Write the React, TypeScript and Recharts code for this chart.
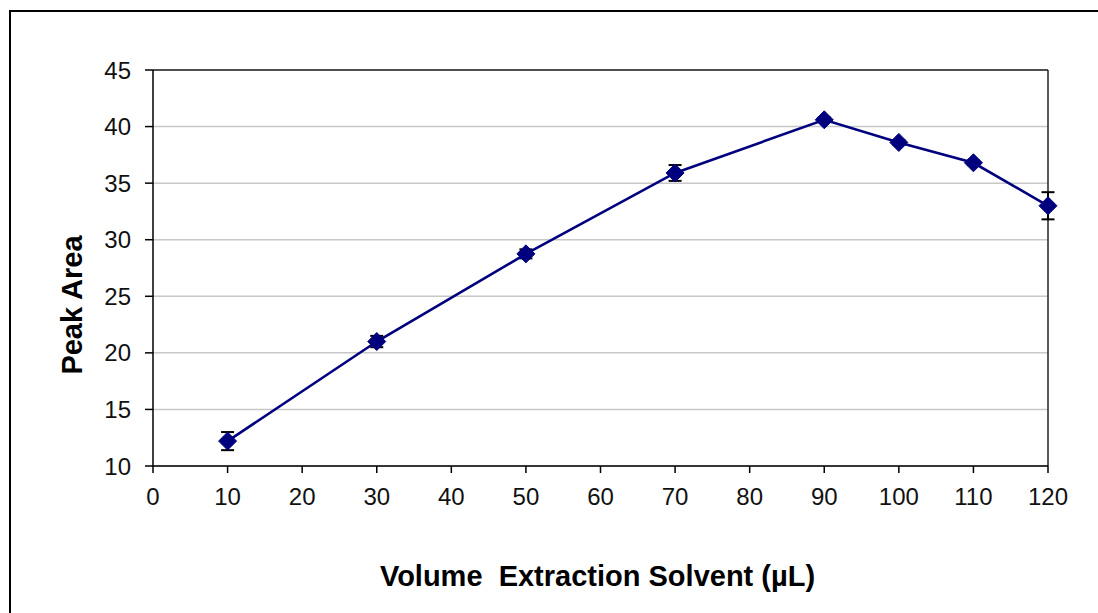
import React from 'react';
import { LineChart, Line, XAxis, YAxis, CartesianGrid, ErrorBar, ReferenceLine } from 'recharts';

const volumes = [10, 30, 50, 70, 90, 100, 110, 120];
const peakAreas = [12.2, 21.0, 28.75, 35.9, 40.6, 38.6, 36.8, 33.0];
const errors = [0.8, 0.5, 0.4, 0.7, 0.2, 0.2, 0.2, 1.2];
const xTicks = [0, 10, 20, 30, 40, 50, 60, 70, 80, 90, 100, 110, 120];
const yTicks = [10, 15, 20, 25, 30, 35, 40, 45];

const data = volumes.map((v, i) => ({ v, area: peakAreas[i], err: errors[i] }));

const NAVY = '#00007f';
const FONT = '"Liberation Sans", Arial, sans-serif';

const Diamond = (props: any) => {
  const { cx, cy } = props;
  if (cx == null || cy == null) return null;
  const s = 9;
  return (
    <polygon
      points={`${cx},${cy - s} ${cx + s},${cy} ${cx},${cy + s} ${cx - s},${cy}`}
      fill={NAVY}
      stroke={NAVY}
      strokeWidth={1}
    />
  );
};

export default function App() {
  return (
    <div style={{ position: 'fixed', left: 0, top: 0, width: 1098, height: 613, overflow: 'hidden', background: '#fff' }}>
      <div
        style={{
          position: 'absolute',
          left: 9,
          top: 10,
          width: 1200,
          height: 700,
          borderLeft: '2px solid #000',
          borderTop: '2px solid #000',
        }}
      />
      <div style={{ position: 'absolute', left: 0, top: 0 }}>
        <LineChart
          width={1098}
          height={613}
          data={data}
          margin={{ top: 70, right: 50, left: 93, bottom: 87 }}
        >
          <CartesianGrid vertical={false} stroke="#c8c8c8" strokeWidth={1.5} />
          <XAxis
            dataKey="v"
            type="number"
            domain={[0, 120]}
            ticks={xTicks}
            interval={0}
            height={60}
            tickSize={7}
            tickMargin={15}
            axisLine={{ stroke: '#000', strokeWidth: 1.5 }}
            tickLine={{ stroke: '#000', strokeWidth: 1.5 }}
            tick={{ fill: '#111', fontSize: 24, fontFamily: FONT }}
          />
          <YAxis
            type="number"
            domain={[10, 45]}
            ticks={yTicks}
            interval={0}
            width={60}
            tickSize={8}
            tickMargin={14}
            axisLine={{ stroke: '#000', strokeWidth: 1.5 }}
            tickLine={{ stroke: '#000', strokeWidth: 1.5 }}
            tick={{ fill: '#111', fontSize: 24, fontFamily: FONT }}
          />
          <ReferenceLine y={45} stroke="#222" strokeWidth={1.5} />
          <ReferenceLine x={120} stroke="#222" strokeWidth={1.5} />
          <Line
            dataKey="area"
            stroke={NAVY}
            strokeWidth={2.6}
            dot={<Diamond />}
            activeDot={false}
            isAnimationActive={false}
          >
            <ErrorBar dataKey="err" width={6.5} stroke="#000" strokeWidth={2} direction="y" />
          </Line>
        </LineChart>
      </div>
      <svg
        width={1098}
        height={613}
        style={{ position: 'absolute', left: 0, top: 0, pointerEvents: 'none' }}
      >
        <text
          x={597.5}
          y={586}
          textAnchor="middle"
          fontFamily={FONT}
          fontWeight="bold"
          fontSize={29}
          fill="#000"
          xmlSpace="preserve"
          style={{ whiteSpace: 'pre' }}
        >
          {'Volume  Extraction Solvent (µL)'}
        </text>
        <text
          x={82}
          y={305}
          transform="rotate(-90, 82, 305)"
          textAnchor="middle"
          fontFamily={FONT}
          fontWeight="bold"
          fontSize={29}
          fill="#000"
        >
          Peak Area
        </text>
      </svg>
    </div>
  );
}
